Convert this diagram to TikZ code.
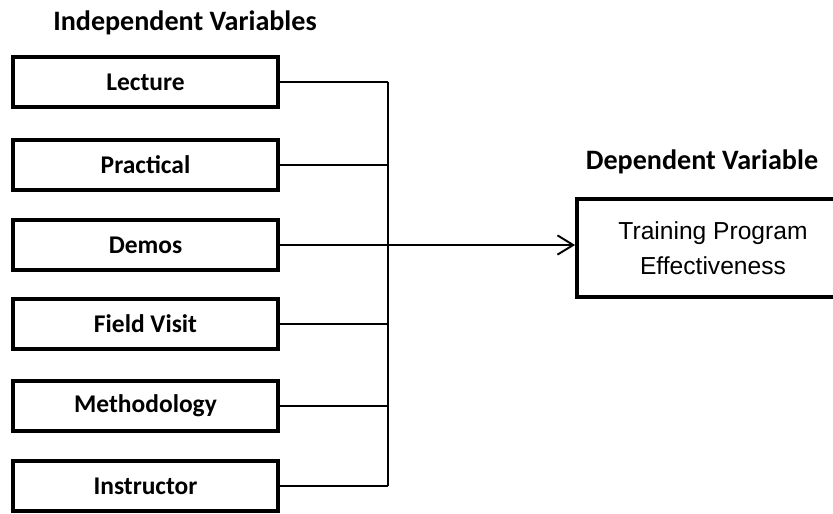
\documentclass[tikz,border=0pt]{standalone}
\usepackage{fontspec}
\setmainfont{Carlito}
\newfontfamily\arialfont{Liberation Sans}
\usetikzlibrary{arrows.meta}

\begin{document}
\begin{tikzpicture}[x=0.02cm, y=-0.02cm, >={Straight Barb[length=9pt, width=11pt]}]
        \useasboundingbox (0,0) rectangle (833,514);

        \tikzset{
            ivbox/.style={draw, line width=2.2pt, minimum width=5.3cm, minimum height=1cm, font=\fontsize{14.5}{16}\selectfont\bfseries},
            dvbox/.style={draw, line width=2.2pt, minimum width=5.44cm, minimum height=1.96cm, align=center, font=\arialfont\fontsize{14}{20}\selectfont},
            heading/.style={font=\fontsize{16}{18}\selectfont\bfseries},
            link/.style={line width=1.1pt}
        }

        \node [heading] (ivtitle) at (185, 23) {Independent Variables};
        \node [heading] (dvtitle) at (702, 162) {Dependent Variable};

        \foreach \name/\txt/\y in {lec/Lecture/82, pra/Practical/165, dem/Demos/245, fie/Field Visit/324, met/Methodology/406, ins/Instructor/486}
        {
            \node [ivbox] (\name) at (145.5, \y) {\txt};
        }

        \node [dvbox] (dv) at (713, 248) {Training Program\\Effectiveness};

        \coordinate (bus) at (388, 0);

        \foreach \name in {lec, pra, dem, fie, met, ins}
        {
            \draw [link] (\name.east) -- (\name.east -| bus);
        }
        \draw [link] (lec.east -| bus) -- (ins.east -| bus);
        \draw [link, ->] (dem.east -| bus) -- (dv.west |- dem.east);
    \end{tikzpicture}
\end{document}
